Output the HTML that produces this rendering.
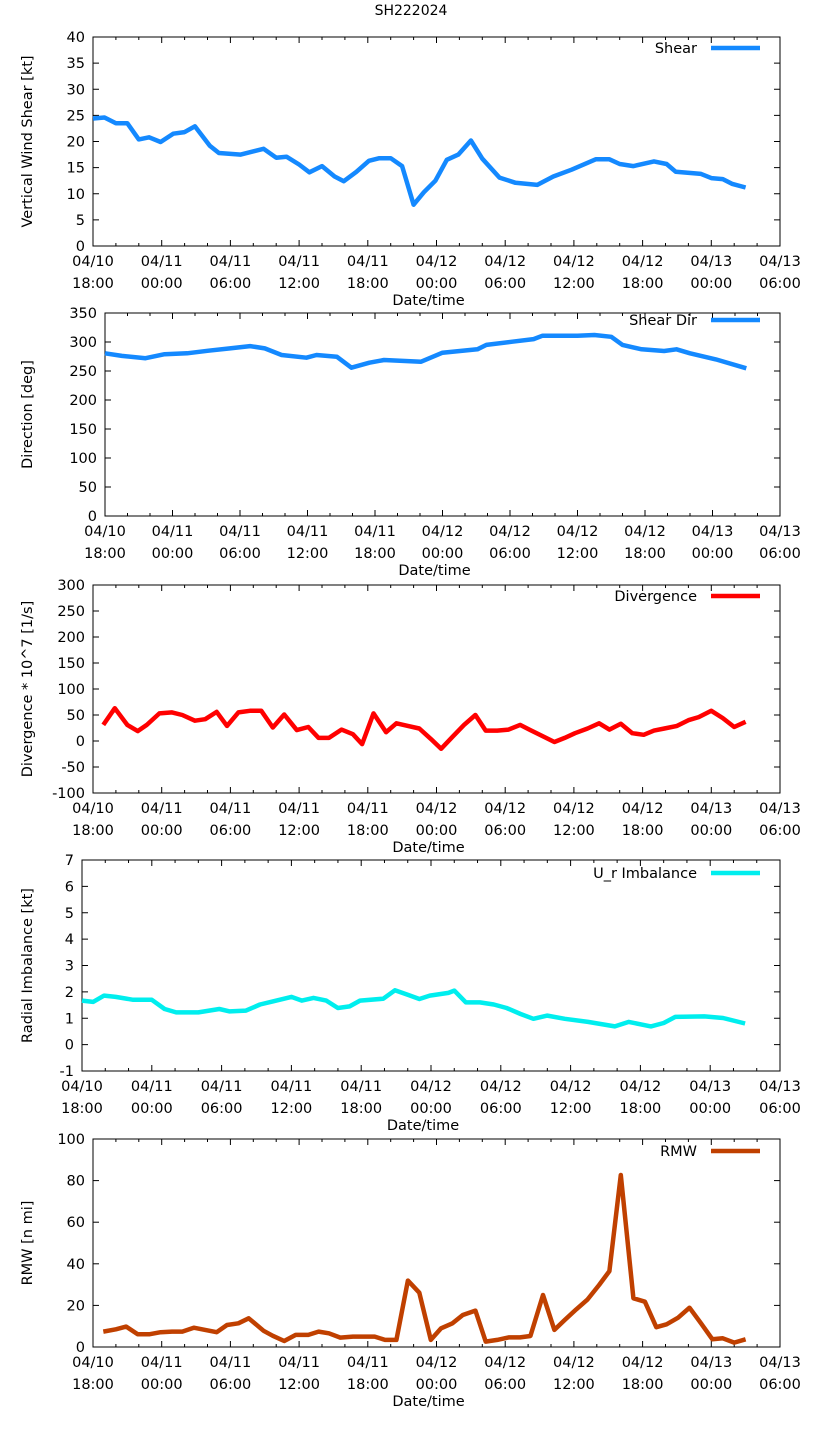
<!DOCTYPE html>
<html><head><meta charset="utf-8"><title>SH222024</title>
<style>
html,body{margin:0;padding:0;background:#fff;}
svg{display:block;font-family:"DejaVu Sans","Liberation Sans",sans-serif;}
</style></head>
<body>
<svg id="chart" width="822" height="1439" viewBox="0 0 822 1439" xmlns="http://www.w3.org/2000/svg">
<text x="411" y="15" text-anchor="middle" font-size="14" fill="#000">SH222024</text>
</svg>
<script>
// ---- data (hours since 04/10 18:00) ----
const xTickLabels1 = ["04/10","04/11","04/11","04/11","04/11","04/12","04/12","04/12","04/12","04/13","04/13"];
const xTickLabels2 = ["18:00","00:00","06:00","12:00","18:00","00:00","06:00","12:00","18:00","00:00","06:00"];

const shearHours = [0,1,2,3,4,4.9,5.9,7,8,8.9,10.2,11,12.9,14.9,16,16.9,18,18.9,20,21.1,21.9,23,24.1,25,26,27,28,28.9,29.9,30.9,31.9,33,34,35.5,36.9,38.8,40.2,41.8,43.9,45.1,46,47.2,49,50.1,50.9,53.1,54,55,55.8,57];
const shearValues = [24.4,24.6,23.5,23.5,20.4,20.8,19.9,21.5,21.8,22.9,19.2,17.8,17.5,18.6,16.9,17.1,15.6,14.1,15.3,13.3,12.4,14.2,16.3,16.8,16.8,15.3,7.9,10.3,12.5,16.5,17.5,20.2,16.7,13.1,12.1,11.7,13.3,14.6,16.6,16.6,15.7,15.3,16.2,15.7,14.2,13.8,13.0,12.8,11.9,11.2];

const dirHours = [0,1.5,3.6,5.3,7.3,9.2,11.1,12.9,14.2,15.7,17.9,18.8,20.6,21.9,23.5,24.8,28.1,30,33.1,33.9,36.2,38.1,38.9,42,43.5,45,46,47.7,49.7,50.8,52,54.3,57];
const dirValues = [280.5,276,272,279,280.5,285,289,293,289,277.6,273,277.6,274.7,255.7,264.3,269,266,281.6,287.4,295,300.5,305,310.9,310.9,312,309,295,287.4,284.5,287.4,280.5,270,254.6];

const divHours = [0.9,1.9,3.0,3.9,4.7,5.8,6.9,7.8,8.9,9.8,10.8,11.7,12.7,13.7,14.7,15.7,16.7,17.8,18.8,19.7,20.6,21.7,22.7,23.5,24.5,25.6,26.5,27.5,28.5,29.5,30.4,31.4,32.4,33.4,34.3,35.3,36.3,37.3,38.2,39.2,40.3,41.2,42.1,43.2,44.2,45.1,46.1,47.1,48.1,49.0,49.9,51.0,52.0,52.9,54.0,55.0,56.0,57.0];
const divValues = [31,63,31,19,31,53,55,50,39,42,56,29,55,58,58,26,51,21,27,6,6,22,13,-6,53,17,34,29,24,4,-15,8,31,50,20,20,22,31,21,10,-2,6,15,24,34,22,33,15,12,20,24,29,40,46,58,44,27,37];

const urHours = [0,0.95,1.9,2.9,4.4,6,7.1,8.1,10,11.8,12.7,14.1,15.3,16.4,18,18.9,19.9,21,22,23,23.9,25.9,26.9,28,29,29.9,31.5,32,33,34.2,35.4,36.5,37.7,38.8,40,41.5,43.5,45.8,47,48.9,50,51,53.5,55.1,57];
const urValues = [1.67,1.62,1.86,1.81,1.70,1.70,1.35,1.22,1.22,1.35,1.26,1.29,1.52,1.64,1.81,1.67,1.77,1.67,1.39,1.45,1.67,1.74,2.06,1.89,1.73,1.86,1.96,2.05,1.60,1.60,1.52,1.39,1.16,0.98,1.10,0.98,0.86,0.69,0.86,0.69,0.82,1.05,1.07,1.01,0.80];

const rmwHours = [0.9,2.0,2.9,3.9,4.9,5.9,6.9,7.8,8.8,9.8,10.8,11.7,12.7,13.6,14.9,15.7,16.7,17.7,18.8,19.7,20.6,21.6,22.7,23.6,24.6,25.5,26.5,27.5,28.5,29.5,30.4,31.4,32.3,33.4,34.3,35.3,36.3,37.3,38.2,39.3,40.3,41.2,42.2,43.2,44.2,45.1,46.1,47.2,48.2,49.2,50.1,51.1,52.1,53.1,54.1,55.0,56.0,57.0];
const rmwValues = [7.4,8.5,9.8,6.1,6.1,7.1,7.4,7.4,9.3,8.2,7.1,10.6,11.4,13.8,7.8,5.4,2.9,5.8,5.8,7.4,6.6,4.5,5.0,5.0,5.0,3.4,3.4,31.9,26.1,3.4,9.0,11.4,15.4,17.5,2.6,3.4,4.6,4.6,5.3,25,8.2,13,18.1,22.9,29.8,36.5,82.7,23.4,21.8,9.5,10.9,14.1,18.9,11.4,3.7,4.2,2.1,3.7];

const shearTicks = [0,5,10,15,20,25,30,35,40];
const dirTicks = [0,50,100,150,200,250,300,350];
const divTicks = [-100,-50,0,50,100,150,200,250,300];
const urTicks = [-1,0,1,2,3,4,5,6,7];
const rmwTicks = [0,20,40,60,80,100];

// ---- drawing ----
const NS = "http://www.w3.org/2000/svg";
const svg = document.getElementById("chart");
function mk(tag, attrs, parent) {
  const e = document.createElementNS(NS, tag);
  for (const k in attrs) e.setAttribute(k, attrs[k]);
  (parent || svg).appendChild(e);
  return e;
}

const panels = [
  {key:"shear", left:93, top:37, bottom:246, ymin:0, ymax:40, ticks:shearTicks, hours:shearHours, vals:shearValues, color:"#1489ff", label:"Shear", ytitle:"Vertical Wind Shear [kt]", legY:48},
  {key:"shear-dir", left:105, top:313, bottom:516, ymin:0, ymax:350, ticks:dirTicks, hours:dirHours, vals:dirValues, color:"#1489ff", label:"Shear Dir", ytitle:"Direction [deg]", legY:320},
  {key:"divergence", left:93, top:585, bottom:793, ymin:-100, ymax:300, ticks:divTicks, hours:divHours, vals:divValues, color:"#ff0000", label:"Divergence", ytitle:"Divergence * 10^7 [1/s]", legY:596},
  {key:"radial-imbalance", left:82, top:860, bottom:1071, ymin:-1, ymax:7, ticks:urTicks, hours:urHours, vals:urValues, color:"#00eeee", label:"U_r Imbalance", ytitle:"Radial Imbalance [kt]", legY:873},
  {key:"rmw", left:93, top:1139, bottom:1347, ymin:0, ymax:100, ticks:rmwTicks, hours:rmwHours, vals:rmwValues, color:"#c04000", label:"RMW", ytitle:"RMW [n mi]", legY:1151}
];
const RIGHT = 780, HSPAN = 60;

panels.forEach(p => {
  const g = mk("g", {});
  
  
  const xs = h => p.left + (RIGHT - p.left) * h / HSPAN;
  const ys = v => p.bottom - (p.bottom - p.top) * (v - p.ymin) / (p.ymax - p.ymin);

  const fr = mk("rect", {x:p.left, y:p.top, width:RIGHT-p.left, height:p.bottom-p.top, fill:"none", stroke:"#000", "stroke-width":1}, g);
  
  

  p.ticks.forEach(t => {
    const y = ys(t);
    mk("line", {x1:p.left, x2:p.left+6, y1:y, y2:y, stroke:"#000"}, g);
    mk("line", {x1:RIGHT-6, x2:RIGHT, y1:y, y2:y, stroke:"#000"}, g);
    const tx = mk("text", {x:p.left-8, y:y+5, "text-anchor":"end", "font-size":14.5, fill:"#000"}, g);
    tx.textContent = t;
    
    
  });
  for (let h = 0; h <= HSPAN; h += 2) {
    const x = xs(h);
    const len = (h % 6 === 0) ? 6 : 3;
    mk("line", {x1:x, x2:x, y1:p.bottom, y2:p.bottom-len, stroke:"#000"}, g);
    mk("line", {x1:x, x2:x, y1:p.top, y2:p.top+len, stroke:"#000"}, g);
  }
  xTickLabels1.forEach((lab, i) => {
    const x = xs(i * 6);
    const t1 = mk("text", {x:x, y:p.bottom+20, "text-anchor":"middle", "font-size":14.5, fill:"#000"}, g);
    t1.textContent = lab;
    
    
    const t2 = mk("text", {x:x, y:p.bottom+42, "text-anchor":"middle", "font-size":14.5, fill:"#000"}, g);
    t2.textContent = xTickLabels2[i];
    
    
  });
  const xt = mk("text", {x:(p.left+RIGHT)/2 - 8, y:p.bottom+59, "text-anchor":"middle", "font-size":14.5, fill:"#000"}, g);
  xt.textContent = "Date/time";
  
  
  const cy = (p.top + p.bottom) / 2;
  const yt = mk("text", {x:32, y:cy, "text-anchor":"middle", "font-size":14.5, fill:"#000", transform:"rotate(-90 32 "+cy+")"}, g);
  yt.textContent = p.ytitle;
  
  

  const pts = p.vals.map((v, i) => xs(p.hours[i]).toFixed(1) + "," + ys(v).toFixed(1)).join(" ");
  const line = mk("polyline", {points:pts, fill:"none", stroke:p.color, "stroke-width":4.5, "stroke-linejoin":"round"}, g);
  
  

  const lg = mk("g", {}, g);
  
  
  const lt = mk("text", {x:697, y:p.legY+5, "text-anchor":"end", "font-size":14.5, fill:"#000"}, lg);
  lt.textContent = p.label;
  mk("line", {x1:711, x2:760, y1:p.legY, y2:p.legY, stroke:p.color, "stroke-width":4.5}, lg);
});
</script>
</body></html>
